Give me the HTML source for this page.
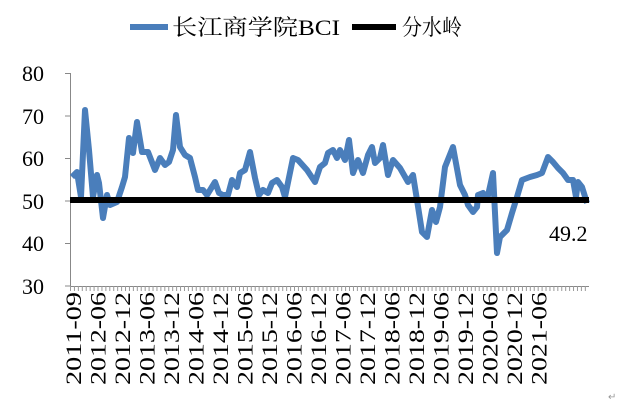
<!DOCTYPE html>
<html><head><meta charset="utf-8"><style>
body{margin:0;background:#fff;width:634px;height:413px;overflow:hidden}
text{font-family:"Liberation Serif","Noto Serif CJK SC",serif}
</style></head><body>
<svg width="634" height="413" xmlns="http://www.w3.org/2000/svg">
<line x1="130" y1="27" x2="168" y2="27" stroke="#4a7ebb" stroke-width="6"/>
<text x="172" y="35" font-size="22" fill="#000" textLength="168" lengthAdjust="spacingAndGlyphs">长江商学院BCI</text>
<line x1="352" y1="27" x2="396" y2="27" stroke="#000" stroke-width="6"/>
<text x="402" y="35" font-size="22" fill="#000" textLength="60" lengthAdjust="spacingAndGlyphs">分水岭</text>
<g font-size="22" text-anchor="end" fill="#000">
<text x="44" y="81">80</text><text x="44" y="124">70</text><text x="44" y="166">60</text>
<text x="44" y="209">50</text><text x="44" y="251">40</text><text x="44" y="294">30</text>
</g>
<g stroke="#888" stroke-width="1">
<line x1="70.5" y1="73" x2="70.5" y2="286"/>
<line x1="65" y1="73.5" x2="70" y2="73.5"/><line x1="65" y1="116" x2="70" y2="116"/>
<line x1="65" y1="158.5" x2="70" y2="158.5"/><line x1="65" y1="201" x2="70" y2="201"/>
<line x1="65" y1="243.5" x2="70" y2="243.5"/><line x1="65" y1="286" x2="70" y2="286"/>
<line x1="70" y1="286.5" x2="589" y2="286.5"/>
</g>
<g id="ticks" stroke="#999" stroke-width="1"></g>
<polyline fill="none" stroke="#4a7ebb" stroke-width="6" stroke-linejoin="round" points="72,177 77,172 81,197 85,110 89,150 93,197 97,175 99,183 103,218 107,195 110,205 117,202 122,187 125,177 129,138 133,153 137,122 142,152 148,152 155,170 160,158 165,165 169,162 173,150 176,115 180,147 185,155 190,158 195,177 198,190 203,190 207,195 215,182 219,193 223,195 228,195 232,180 237,187 240,173 245,170 250,152 255,178 259,195 263,190 268,193 272,183 277,180 282,187 285,197 293,158 298,160 307,170 315,182 320,167 325,163 328,153 333,150 337,158 340,150 345,160 349,140 353,173 358,160 363,173 368,155 372,147 375,163 380,158 383,145 388,175 393,160 400,168 408,182 413,175 417,200 422,232 427,237 432,210 436,222 440,207 445,167 453,147 460,185 465,195 468,205 473,212 477,207 478,195 483,193 487,200 493,173 497,253 500,237 507,230 512,213 517,197 522,180 530,177 537,175 542,173 548,157 553,162 558,168 563,173 568,180 573,180 576,197 578,182 582,187 587,203"/>
<line x1="70" y1="200" x2="589" y2="200" stroke="#000" stroke-width="6"/>
<text x="549" y="241" font-size="22" fill="#000">49.2</text>
<g font-size="22" fill="#000" text-anchor="end">
<text transform="translate(81,292) rotate(-90)" textLength="93" lengthAdjust="spacingAndGlyphs">2011-09</text>
<text transform="translate(105.5,292) rotate(-90)" textLength="93" lengthAdjust="spacingAndGlyphs">2012-06</text>
<text transform="translate(130,292) rotate(-90)" textLength="93" lengthAdjust="spacingAndGlyphs">2012-12</text>
<text transform="translate(154.5,292) rotate(-90)" textLength="93" lengthAdjust="spacingAndGlyphs">2013-06</text>
<text transform="translate(179,292) rotate(-90)" textLength="93" lengthAdjust="spacingAndGlyphs">2013-12</text>
<text transform="translate(203.5,292) rotate(-90)" textLength="93" lengthAdjust="spacingAndGlyphs">2014-06</text>
<text transform="translate(228,292) rotate(-90)" textLength="93" lengthAdjust="spacingAndGlyphs">2014-12</text>
<text transform="translate(252.5,292) rotate(-90)" textLength="93" lengthAdjust="spacingAndGlyphs">2015-06</text>
<text transform="translate(277,292) rotate(-90)" textLength="93" lengthAdjust="spacingAndGlyphs">2015-12</text>
<text transform="translate(301.5,292) rotate(-90)" textLength="93" lengthAdjust="spacingAndGlyphs">2016-06</text>
<text transform="translate(326,292) rotate(-90)" textLength="93" lengthAdjust="spacingAndGlyphs">2016-12</text>
<text transform="translate(350.5,292) rotate(-90)" textLength="93" lengthAdjust="spacingAndGlyphs">2017-06</text>
<text transform="translate(375,292) rotate(-90)" textLength="93" lengthAdjust="spacingAndGlyphs">2017-12</text>
<text transform="translate(399.5,292) rotate(-90)" textLength="93" lengthAdjust="spacingAndGlyphs">2018-06</text>
<text transform="translate(424,292) rotate(-90)" textLength="93" lengthAdjust="spacingAndGlyphs">2018-12</text>
<text transform="translate(448.5,292) rotate(-90)" textLength="93" lengthAdjust="spacingAndGlyphs">2019-06</text>
<text transform="translate(473,292) rotate(-90)" textLength="93" lengthAdjust="spacingAndGlyphs">2019-12</text>
<text transform="translate(497.5,292) rotate(-90)" textLength="93" lengthAdjust="spacingAndGlyphs">2020-06</text>
<text transform="translate(522,292) rotate(-90)" textLength="93" lengthAdjust="spacingAndGlyphs">2020-12</text>
<text transform="translate(546.5,292) rotate(-90)" textLength="93" lengthAdjust="spacingAndGlyphs">2021-06</text>
</g>
<text x="608" y="400" font-size="10" fill="#999">↵</text>
</svg>
<script>
var g=document.getElementById('ticks'),s='';
for(var x=70.5;x<=589;x+=3.93){s+='<line x1="'+x+'" y1="286" x2="'+x+'" y2="291"/>';}
g.innerHTML=s;
</script>
</body></html>
